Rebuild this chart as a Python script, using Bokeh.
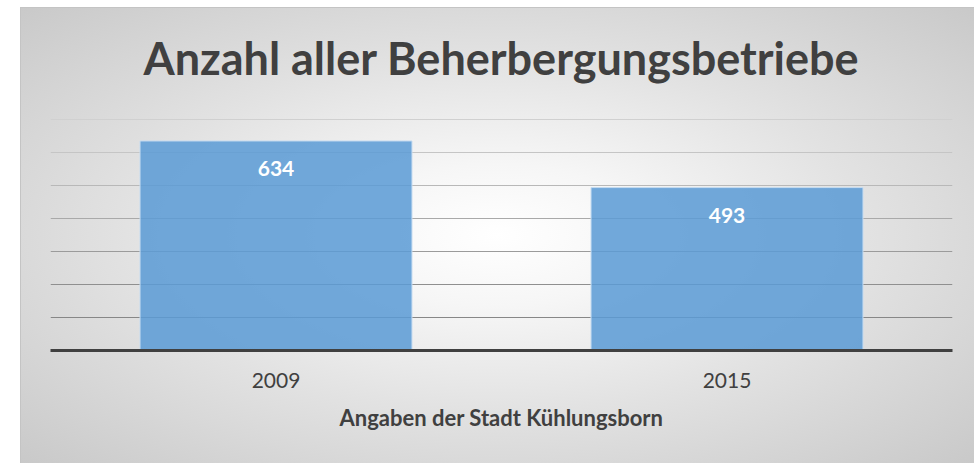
from bokeh.plotting import figure
from bokeh.models import FactorRange, Grid, FixedTicker, InlineStyleSheet, Title
from bokeh.core.properties import value
from bokeh.embed import file_html
from bokeh.resources import INLINE

# ---- data ----
years = ["2009", "2015"]
counts = [634, 493]
count_labels = [str(c) for c in counts]
grid_values = [100, 200, 300, 400, 500, 600, 700]
grid_colors = ["#878787", "#8f8f8f", "#9b9b9b", "#a9a9a9", "#b8b8b8", "#c5c5c5", "#d0d0d0"]

title_text = "Anzahl aller Beherbergungsbetriebe"
x_title = "Angaben der Stadt Kühlungsborn"
FONT = "Lato"

css = InlineStyleSheet(css="""
:host {
  background:
    linear-gradient(#c4c4c4, #c4c4c4) 20px 7px / 100% 1px no-repeat,
    linear-gradient(#c4c4c4, #c4c4c4) 20px 7px / 1px 100% no-repeat,
    radial-gradient(ellipse farthest-corner at 50% 50%, #ffffff 0%, #f6f6f6 22%, #e2e2e2 55%, #c9c9c9 100%) 20px 7px / calc(100% - 20px) calc(100% - 7px) no-repeat,
    #ffffff;
}
""")

p = figure(
    width=974, height=463,
    x_range=FactorRange(*years, range_padding=0),
    y_range=(0, 702),
    output_backend="svg", toolbar_location=None,
    min_border_left=50, min_border_right=22,
    min_border_top=118, min_border_bottom=113,
    title=None,
)
p.stylesheets = [css]
p.border_fill_color = None
p.background_fill_color = None
p.outline_line_color = None

# spacer between title and plot area (nearest the frame), then the title itself
spacer = Title(text=" ", text_font=FONT, text_font_size="10px", standoff=20)
p.add_layout(spacer, "above")
main_title = Title(text=title_text, align="center", text_font=FONT, text_font_size="45px",
                   text_font_style="bold", text_color="#404040", standoff=0)
p.add_layout(main_title, "above")

# gridlines with individual shades
p.ygrid.visible = False
p.xgrid.visible = False
for gv, gc in zip(grid_values, grid_colors):
    g = Grid(dimension=1, ticker=FixedTicker(ticks=[gv]), grid_line_color=gc, grid_line_width=1)
    p.add_layout(g)

p.yaxis.visible = False

p.xaxis.axis_line_color = "#404040"
p.xaxis.axis_line_width = 3
p.xaxis.major_tick_line_color = None
p.xaxis.minor_tick_line_color = None
p.xaxis.major_tick_out = 0
p.xaxis.major_label_text_font = FONT
p.xaxis.major_label_text_font_size = "21px"
p.xaxis.major_label_text_color = "#404040"
p.xaxis.major_label_standoff = 22
p.xaxis.axis_label = x_title
p.xaxis.axis_label_text_font = FONT
p.xaxis.axis_label_text_font_size = "22px"
p.xaxis.axis_label_text_font_style = "bold"
p.xaxis.axis_label_text_color = "#404040"
p.xaxis.axis_label_standoff = 13

p.vbar(x=years, top=counts, width=0.603, fill_color="#5b9bd5", fill_alpha=0.86,
       line_color="#c5dcf1", line_width=1)

p.text(x=years, y=counts, text=count_labels, y_offset=28,
       text_align="center", text_baseline="middle",
       text_font=value(FONT), text_font_size="21px", text_font_style="bold",
       text_color="#ffffff")

open("out.html", "w").write(file_html(p, INLINE))
